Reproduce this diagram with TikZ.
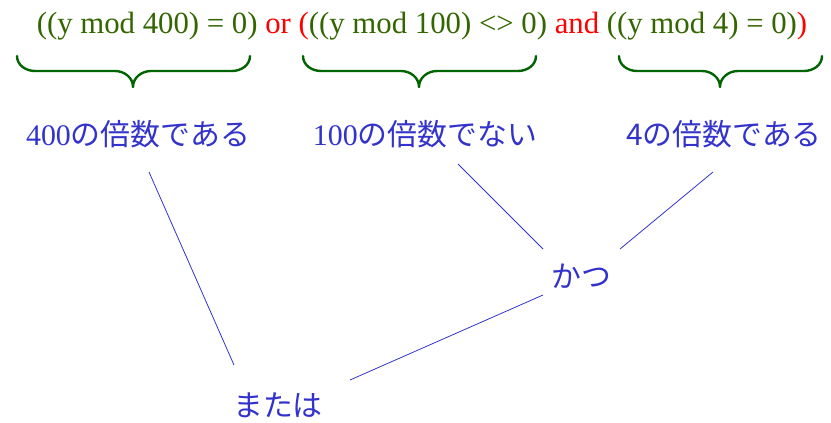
\documentclass[tikz,border=0pt]{standalone}
\usepackage{fontspec}
\setmainfont{Liberation Serif}
\newfontfamily\jp{Noto Sans CJK JP}
\definecolor{txtgreen}{RGB}{51,102,0}
\definecolor{brgreen}{RGB}{0,100,0}
\definecolor{lblue}{RGB}{51,51,204}
\definecolor{opred}{RGB}{255,0,0}
\tikzset{
  expr/.style={inner sep=0pt, anchor=base, text=txtgreen, font=\fontsize{30.9}{34}\selectfont},
  lbl/.style={inner sep=0pt, anchor=base, text=lblue, font=\fontsize{30}{34}\selectfont},
  bracepath/.style={draw=brgreen, line width=2.4pt, line cap=round, line join=round},
  link/.style={draw=lblue, line width=0.8pt}
}
\newcommand{\mybrace}[3]{% left x, middle x, right x
  \draw[bracepath] (#1,56) to[out=-90,in=180] (#1+18,71) -- (#2-18,71)
    to[out=0,in=90] (#2,87) to[out=90,in=180] (#2+18,71) -- (#3-18,71)
    to[out=0,in=-90] (#3,56);}
\begin{document}
\begin{tikzpicture}[x=1bp,y=-1bp]
\useasboundingbox (0,0) rectangle (831,422);
\node[expr] (expr) at (422,33) {((y mod 400) = 0) \textcolor{opred}{or} \textcolor{opred}{(}((y mod 100) <> 0) \textcolor{opred}{and} ((y mod 4) = 0)\textcolor{opred}{)}};
\mybrace{17}{133}{250}
\mybrace{303}{419}{536}
\mybrace{619}{720}{822}
\node[lbl] (m400) at (138,145) {400{\jp の倍数である}};
\node[lbl] (n100) at (425,145) {100{\jp の倍数でない}};
\node[lbl] (m4) at (724,145) {\jp 4の倍数である};
\node[lbl] (katsu) at (581,287) {\jp かつ};
\node[lbl] (matawa) at (278,416) {\jp または};
\coordinate (a1) at (149,172);
\coordinate (a2) at (234,365);
\coordinate (b1) at (458,164);
\coordinate (b2) at (543,249);
\coordinate (c1) at (713,172);
\coordinate (c2) at (620,249);
\coordinate (d1) at (543,295);
\coordinate (d2) at (350,380);
\draw[link] (a1) -- (a2);
\draw[link] (b1) -- (b2);
\draw[link] (c1) -- (c2);
\draw[link] (d1) -- (d2);
\end{tikzpicture}
\end{document}
